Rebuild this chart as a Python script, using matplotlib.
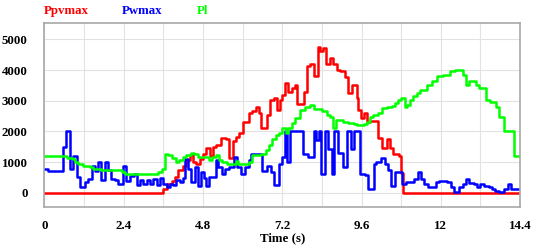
import numpy as np
import matplotlib.pyplot as plt
from matplotlib.ticker import MultipleLocator

# step series: time where a new level starts, and the level (W)
t_pv = [0, 3.6, 3.7, 3.85, 3.95, 4.05, 4.2, 4.3, 4.4, 4.5, 4.6, 4.7, 4.8, 4.9, 5.0, 5.1,
        5.2, 5.35, 5.5, 5.6, 5.7, 5.8, 5.9, 6.0, 6.2, 6.3, 6.4, 6.5, 6.55, 6.74, 6.84, 6.94,
        7.04, 7.12, 7.19, 7.29, 7.39, 7.49, 7.59, 7.64, 7.85, 7.95, 8.03, 8.17, 8.27, 8.35,
        8.43, 8.53, 8.65, 8.75, 8.85, 8.95, 9.1, 9.2, 9.3, 9.45, 9.5, 9.58, 9.68, 9.76,
        9.86, 10.1, 10.22, 10.36, 10.46, 10.56, 10.72, 10.8, 10.86]
p_pv = [0, 130, 300, 400, 510, 730, 880, 1060, 1230, 1000, 950, 1100, 1250, 1450, 1200, 1500,
        1550, 1800, 1750, 1120, 1700, 1830, 1940, 2300, 2600, 2650, 2810, 2590, 2100, 2540, 3030, 3085,
        2700, 3030, 3200, 3580, 3300, 3410, 3520, 2900, 3300, 4120, 4180, 3800, 4750, 4620,
        4730, 4180, 4400, 4180, 4010, 3980, 3770, 3250, 3520, 3100, 2700, 2430, 2600, 2300,
        2350, 1800, 1450, 1750, 1450, 1250, 1200, 650, 0]

t_w = [0, 0.1, 0.57, 0.67, 0.78, 0.88, 0.98, 1.08, 1.23, 1.33, 1.43, 1.53, 1.63, 1.73, 1.83,
       1.93, 2.03, 2.13, 2.23, 2.38, 2.48, 2.6, 2.7, 2.8, 2.9, 3.0, 3.1, 3.2, 3.3, 3.4, 3.5,
       3.6, 3.7, 3.8, 3.9, 4.0, 4.1, 4.2, 4.25, 4.35, 4.45, 4.55, 4.65, 4.73, 4.83, 4.89, 4.98,
       5.19, 5.27, 5.37, 5.47, 5.59, 5.74, 5.84, 5.94, 6.07, 6.19, 6.27, 6.6, 6.75, 6.85, 6.94,
       7.09, 7.19, 7.27, 7.34, 7.44, 7.84, 7.99, 8.15, 8.23, 8.3, 8.38, 8.5, 8.6, 8.7, 8.77,
       8.9, 9.05, 9.15, 9.27, 9.37, 9.56, 9.7, 9.8, 9.98, 10.05, 10.2, 10.3, 10.4, 10.48, 10.6,
       10.83, 10.95, 11.2, 11.31, 11.41, 11.5, 11.6, 11.85, 11.95, 12.2, 12.3, 12.4, 12.56,
       12.66, 12.76, 12.86, 13.0, 13.1, 13.2, 13.3, 13.45, 13.55, 13.65, 13.77, 13.92, 14.02, 14.13]
p_w = [780, 720, 1500, 2000, 780, 1190, 510, 180, 370, 460, 880, 700, 1000, 420, 1000,
       750, 450, 430, 300, 880, 400, 560, 630, 260, 430, 300, 430, 300, 450, 260, 480,
       300, 200, 300, 260, 430, 350, 500, 1115, 790, 350, 840, 240, 680, 500, 240, 530,
       1060, 840, 600, 790, 840, 1170, 840, 600, 840, 1060, 1280, 700, 870, 680, 250,
       950, 1170, 2000, 1000, 2000, 1280, 1170, 2000, 1720, 2000, 620, 2000, 1440, 620, 2000,
       1300, 840, 2000, 1440, 2000, 620, 570, 130, 950, 1000, 1150, 950, 730, 240, 680,
       300, 350, 460, 680, 460, 300, 190, 350, 400, 350, 190, 20, 190,
       300, 460, 320, 300, 190, 300, 210, 190, 130, 75, 20, 130, 300, 130]

t_l = [0, 0.68, 0.88, 0.93, 1.03, 1.18, 1.38, 1.48, 1.73, 2.35, 2.43, 2.73, 3.18, 3.45, 3.55,
       3.64, 3.74, 3.86, 3.99, 4.09, 4.19, 4.29, 4.44, 4.54, 4.64, 4.98, 5.08, 5.19, 5.29, 5.39,
       5.54, 5.79, 5.87, 6.2, 6.3, 6.55, 6.7, 6.8, 6.9, 7.0, 7.1, 7.2, 7.32, 7.39, 7.49, 7.6,
       7.74, 7.9, 8.03, 8.17, 8.4, 8.55, 8.65, 8.75, 8.83, 9.05, 9.2, 9.37, 9.47, 9.66, 9.76,
       9.86, 9.96, 10.11, 10.21, 10.36, 10.51, 10.61, 10.71, 10.81, 10.91, 10.99, 11.07, 11.17,
       11.27, 11.37, 11.57, 11.72, 11.87, 12.07, 12.27, 12.43, 12.68, 12.76, 12.86, 13.06, 13.16,
       13.36, 13.5, 13.66, 13.76, 13.9, 14.22]
p_l = [1200, 1150, 1115, 1000, 950, 880, 840, 790, 730, 680, 620, 600, 620, 680, 790,
       1280, 1230, 1120, 1000, 1080, 1170, 1230, 1300, 1280, 1170, 1060, 1170, 1230, 1060, 1000,
       950, 1040, 950, 1000, 1230, 1280, 1390, 1550, 1740, 1880, 1960, 2100, 1940, 2100, 2260, 2430,
       2700, 2790, 2870, 2720, 2650, 2540, 2480, 2100, 2370, 2320, 2290, 2240, 2210, 2240, 2320,
       2460, 2540, 2590, 2760, 2790, 2830, 2920, 3030, 3085, 2810, 2850, 3030, 3140,
       3250, 3360, 3520, 3630, 3820, 3850, 3960, 4015, 3850, 3520, 3630, 3520, 3410,
       3030, 2950, 2810, 2480, 2000, 1200]

t_end = 14.4
series = [("Ppvmax", t_pv, p_pv, "#ff0000"),
          ("Pwmax", t_w, p_w, "#0000ff"),
          ("Pl", t_l, p_l, "#00ff00")]

plt.rcParams["font.family"] = "serif"
plt.rcParams["font.serif"] = ["Liberation Serif", "DejaVu Serif"]
plt.rcParams["font.weight"] = "bold"

fig = plt.figure(figsize=(5.34, 2.48), dpi=100)
ax = fig.add_axes([0.083, 0.164, 0.891, 0.742])

for name, t, p, c in series:
    tt = np.append(t, t_end)
    pp = np.append(p, p[-1])
    ax.step(tt, pp, where="post", color=c, lw=1.8)

ax.set_xlim(0, 14.4)
ax.set_ylim(-470, 5520)
ax.xaxis.set_minor_locator(MultipleLocator(1.2))
ax.set_xticks([0, 2.4, 4.8, 7.2, 9.6, 12, 14.4])
ax.set_xticklabels(["0", "2.4", "4.8", "7.2", "9.6", "12", "14.4"])
ax.set_yticks([0, 1000, 2000, 3000, 4000, 5000])
ax.grid(which="both", color="#e2e2e2", lw=0.8)
ax.set_axisbelow(True)
ax.tick_params(which="both", length=0, labelsize=9.3)
ax.tick_params(axis="y", pad=12)
ax.tick_params(axis="x", pad=9)
for s in ax.spines.values():
    s.set_color("#a8a8a8")
    s.set_linewidth(1.2)

ax.set_xlabel("Time (s)", fontsize=9.3, fontweight="bold", labelpad=0)

label_x = [44, 122, 197]
for (name, t, p, c), lx in zip(series, label_x):
    fig.text(lx / 534, 1 - 11 / 248, name, color=c, fontsize=9.3,
             fontweight="bold", va="center", ha="left")

fig.savefig("out.png", dpi=100)
